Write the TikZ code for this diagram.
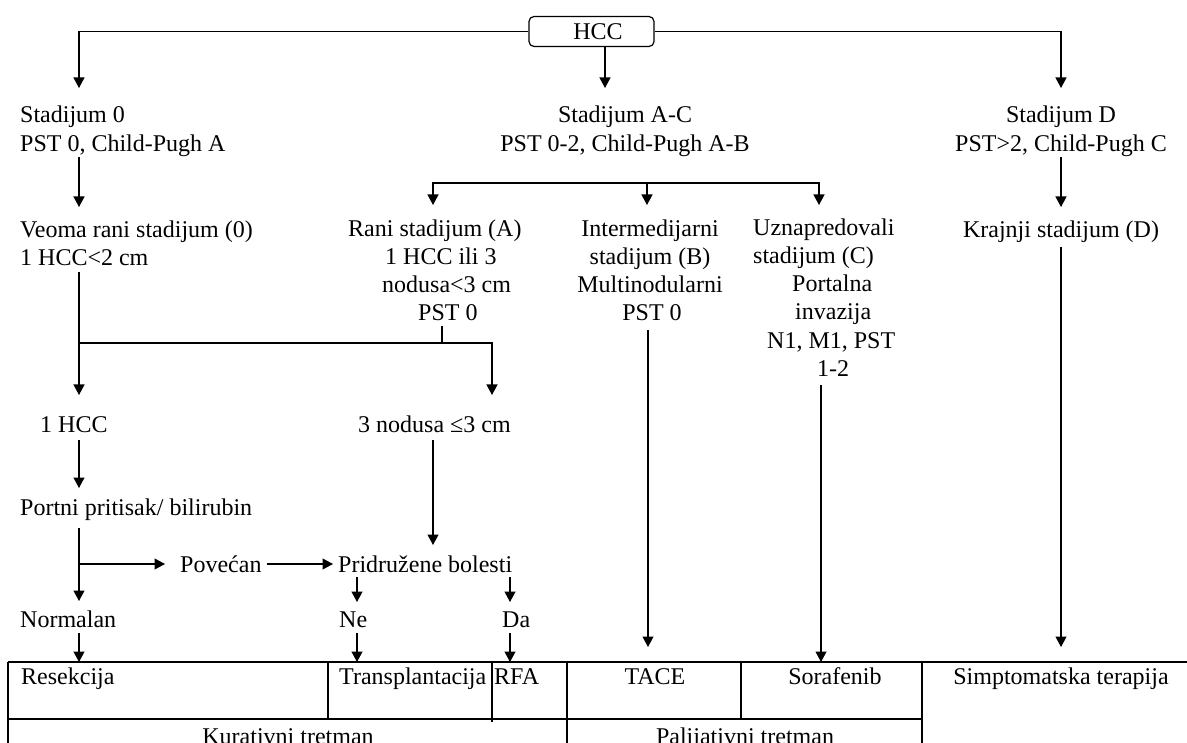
\documentclass[tikz,border=0pt]{standalone}
\usepackage{fontspec}
\setmainfont{Liberation Serif}
\usetikzlibrary{arrows.meta}
\newcommand{\fsz}{\fontsize{24}{28.5}\selectfont}
\begin{document}
\begin{tikzpicture}[x=1pt,y=-1pt,
  txt/.style={inner sep=0pt,font=\fsz,anchor=base west},
  ctxt/.style={inner sep=0pt,font=\fsz,anchor=base},
  ln/.style={line width=1.2pt,draw=black},
  arr/.style={ln,-{Triangle[width=11pt,length=10.5pt]}},
  tbl/.style={line width=1.2pt,draw=black}]
\useasboundingbox (0,0) rectangle (1187,743);
\clip (0,0) rectangle (1187,743);
\fill[white] (0,0) rectangle (1187,743);

% root
\node[draw,line width=1.2pt,rounded corners=5pt,minimum width=125pt,minimum height=30pt,inner sep=0pt,font=\fsz] (hcc) at (591.5,31.5) {\hspace*{13pt}HCC};

% stage headers
\node[txt] (s0a) at (20,123) {Stadijum 0};
\node[txt] (s0b) at (20,152) {PST 0, Child-Pugh A};
\node[ctxt] (sACa) at (625,123) {Stadijum A-C};
\node[ctxt] (sACb) at (625,152) {PST 0-2, Child-Pugh A-B};
\node[ctxt] (sDa) at (1061,123) {Stadijum D};
\node[ctxt] (sDb) at (1061,152) {PST>2, Child-Pugh C};

% second level
\node[txt] (v1) at (20,238) {Veoma rani stadijum (0)};
\node[txt] (v2) at (20,266) {1 HCC<2 cm};

\node[txt] (r1) at (348,237) {Rani stadijum (A)};
\node[txt] (r2) at (385,265) {1 HCC ili 3};
\node[txt] (r3) at (382,293) {nodusa<3 cm};
\node[txt] (r4) at (418,321) {PST 0};

\node[ctxt] (i1) at (650,237) {Intermedijarni};
\node[ctxt] (i2) at (650,265) {stadijum (B)};
\node[ctxt] (i3) at (650,293) {Multinodularni};
\node[ctxt] (i4) at (652,321) {PST 0};

\node[txt] (u1) at (753,236) {Uznapredovali};
\node[txt] (u2) at (753,264) {stadijum (C)};
\node[txt] (u3) at (792,292) {Portalna};
\node[txt] (u4) at (795,320) {invazija};
\node[txt] (u5) at (767,349) {N1, M1, PST};
\node[txt] (u6) at (817,377) {1-2};

\node[ctxt] (k1) at (1061,238) {Krajnji stadijum (D)};

% lower left branch
\node[txt] (h1) at (40,432) {1 HCC};
\node[txt] (n3) at (358,432) {3 nodusa ≤3 cm};
\node[txt] (pp) at (20,515) {Portni pritisak/ bilirubin};
\node[txt] (pov) at (180,572) {Povećan};
\node[txt] (pb) at (338,572) {Pridružene bolesti};
\node[txt] (nor) at (20,627) {Normalan};
\node[txt] (ne) at (339,627) {Ne};
\node[txt] (da) at (502,627) {Da};

% table texts
\node[txt] (res) at (21,684) {Resekcija};
\node[txt] (tra) at (339,684) {Transplantacija};
\node[txt] (rfa) at (494,684) {RFA};
\node[ctxt] (tace) at (655,684) {TACE};
\node[ctxt] (sor) at (835,684) {Sorafenib};
\node[ctxt] (sim) at (1061,684) {Simptomatska terapija};
\node[ctxt] (kur) at (288,744) {Kurativni tretman};
\node[ctxt] (pal) at (745,744) {Palijativni tretman};

% coordinates
\coordinate (t0) at (79,88);
\coordinate (tAC) at (605,88);
\coordinate (tD) at (1061,88);
\coordinate (ac) at (647,183);

% connectors
\draw[arr] (hcc.west) -| (t0);
\draw[arr] (hcc.east) -| (tD);
\draw[arr] (hcc.south -| tAC) -- (tAC);

\draw[arr] (79,157) -- (79,207);
\draw[arr] (1061,157) -- (1061,207);

\draw[arr] (ac) -| (433,205);
\draw[arr] (ac) -| (819,205);
\draw[arr] (ac) -- (647,205);

\draw[arr] (79,272) -- (79,395);
\draw[arr] (79,343) -| (492,395);
\draw[ln] (442,326) -- (442,343);

\draw[arr] (79,440) -- (79,488);
\draw[arr] (433,440) -- (433,545);

\draw[arr] (79,528) -- (79,601);
\draw[arr] (79,564) -- (165,564);
\draw[arr] (pov.east |- 0,564) ++(5,0) -- (333,564);

\draw[arr] (357,577) -- (357,602);
\draw[arr] (510,577) -- (510,602);

\draw[arr] (79,633) -- (79,662);
\draw[arr] (357,633) -- (357,662);
\draw[arr] (510,633) -- (510,662);

\draw[arr] (648,330) -- (648,647);
\draw[arr] (821,385) -- (821,662);
\draw[arr] (1061,247) -- (1061,647);

% table
\draw[tbl] (8,662) -- (1200,662);
\draw[tbl] (8,662) -- (8,760);
\draw[tbl] (8,719) -- (922,719);
\draw[tbl] (328,662) -- (328,719);
\draw[tbl] (492,662) -- (492,722);
\draw[tbl] (567,662) -- (567,760);
\draw[tbl] (741,662) -- (741,719);
\draw[tbl] (922,662) -- (922,760);
\end{tikzpicture}
\end{document}
